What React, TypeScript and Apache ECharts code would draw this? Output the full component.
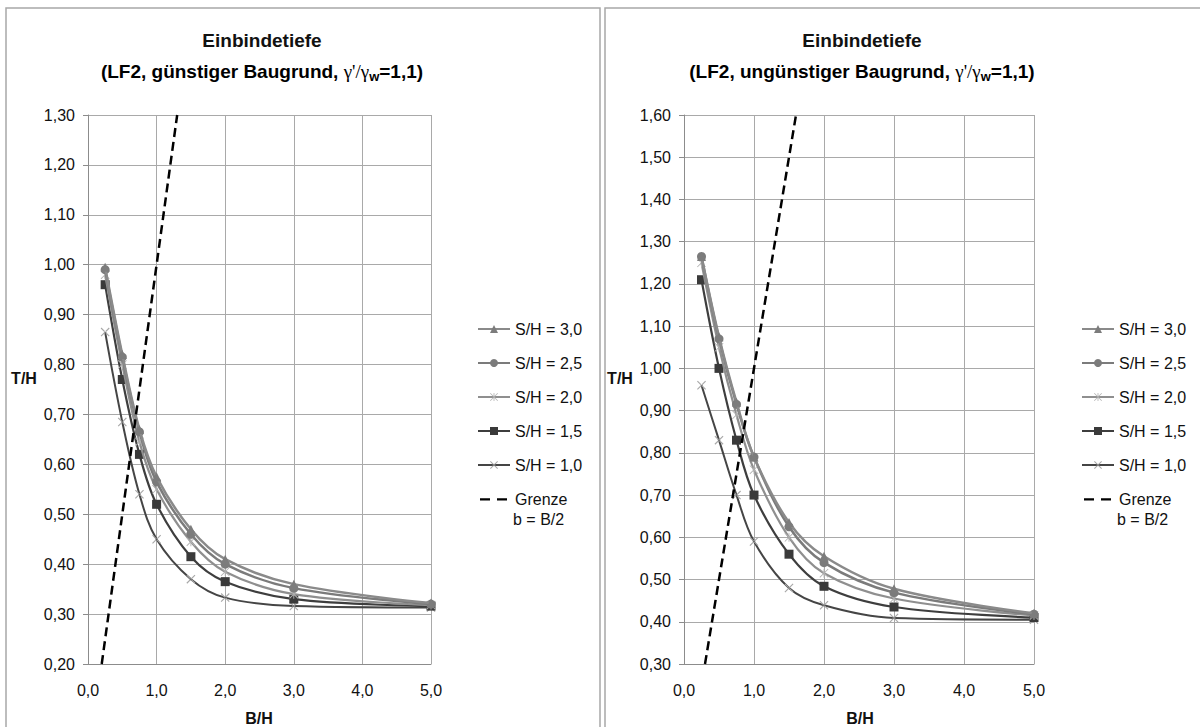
import React, { useEffect, useRef } from "react";
import * as echarts from "echarts";

// ---- data ----
const X_VALUES = [0.25, 0.5, 0.75, 1.0, 1.5, 2.0, 3.0, 5.0];
const SERIES_NAMES = ["S/H = 3,0", "S/H = 2,5", "S/H = 2,0", "S/H = 1,5", "S/H = 1,0"];
const GRENZE_NAME = "Grenze";

const LEFT_S30 = [0.995, 0.82, 0.67, 0.575, 0.47, 0.41, 0.36, 0.322];
const LEFT_S25 = [0.99, 0.815, 0.665, 0.565, 0.46, 0.4, 0.352, 0.32];
const LEFT_S20 = [0.98, 0.8, 0.645, 0.55, 0.445, 0.385, 0.34, 0.318];
const LEFT_S15 = [0.96, 0.77, 0.62, 0.52, 0.415, 0.365, 0.33, 0.316];
const LEFT_S10 = [0.865, 0.685, 0.54, 0.45, 0.37, 0.333, 0.316, 0.313];
const LEFT_GRENZE_X = [0.2, 1.3];
const LEFT_GRENZE_Y = [0.2, 1.3];

const RIGHT_S30 = [1.265, 1.075, 0.92, 0.79, 0.635, 0.555, 0.478, 0.42];
const RIGHT_S25 = [1.265, 1.07, 0.915, 0.79, 0.625, 0.54, 0.469, 0.418];
const RIGHT_S20 = [1.25, 1.05, 0.89, 0.76, 0.6, 0.515, 0.455, 0.415];
const RIGHT_S15 = [1.21, 1.0, 0.83, 0.7, 0.56, 0.484, 0.435, 0.41];
const RIGHT_S10 = [0.96, 0.83, 0.7, 0.59, 0.48, 0.439, 0.409, 0.405];
const RIGHT_GRENZE_X = [0.3, 1.6];
const RIGHT_GRENZE_Y = [0.3, 1.6];

const LEFT_TITLE_1 = "Einbindetiefe";
const LEFT_TITLE_2 = "(LF2, günstiger Baugrund, ";
const RIGHT_TITLE_2 = "(LF2, ungünstiger Baugrund, ";
const X_NAME = "B/H";
const Y_NAME = "T/H";
const GRENZE_LINE2 = "b = B/2";

const FONT = '"Liberation Sans", Arial, sans-serif';

const ASTERISK =
  "path://M4.5 0h1v10h-1z M0 0.7L0.7 0L10 9.3L9.3 10z M10 0.7L9.3 0L0 9.3L0.7 10z";
const CROSS = "path://M0 0.9L0.9 0L10 9.1L9.1 10z M10 0.9L9.1 0L0 9.1L0.9 10z";
const DASH_ICON =
  "path://M0 0h0.01v0.01h-0.01z M2 4.2h10v2.2h-10z M19 4.2h10v2.2h-10z M31.99 9.99h0.01v0.01h-0.01z";

const SERIES_STYLE = [
  { symbol: "triangle", size: 9, line: "#8a8a8a", marker: "#7c7c7c", width: 2.5 },
  { symbol: "circle", size: 9, line: "#7b7b7b", marker: "#7b7b7b", width: 2.5 },
  { symbol: ASTERISK, size: 9, line: "#8f8f8f", marker: "#b3b3b3", width: 2.2 },
  { symbol: "rect", size: 9, line: "#3e3e3e", marker: "#3a3a3a", width: 2.2 },
  { symbol: CROSS, size: 9, line: "#454545", marker: "#a8a8a8", width: 2 },
];

function pairs(xs: number[], ys: number[]) {
  return xs.map((x, i) => [x, ys[i]]);
}

function buildSeries(gridIndex: number, values: number[][], gx: number[], gy: number[]) {
  const list: any[] = values.map((vals, i) => {
    const st = SERIES_STYLE[i];
    return {
      type: "line",
      name: SERIES_NAMES[i],
      xAxisIndex: gridIndex,
      yAxisIndex: gridIndex,
      data: pairs(X_VALUES, vals),
      smooth: 0.35,
      symbol: st.symbol,
      symbolSize: st.size,
      showAllSymbol: true,
      lineStyle: { color: st.line, width: st.width },
      itemStyle: { color: st.marker },
      z: 3 + (4 - i),
    };
  });
  list.push({
    type: "line",
    name: GRENZE_NAME,
    xAxisIndex: gridIndex,
    yAxisIndex: gridIndex,
    data: pairs(gx, gy),
    symbol: "none",
    lineStyle: { color: "#000", width: 2.5, type: [9, 5] },
    itemStyle: { color: "#000" },
    z: 10,
  });
  return list;
}

function yAxis(gridIndex: number, min: number, max: number) {
  return {
    type: "value",
    gridIndex,
    min,
    max,
    interval: 0.1,
    axisLine: { show: true, lineStyle: { color: "#8c8c8c", width: 1 } },
    axisTick: { show: true, length: 5, lineStyle: { color: "#8c8c8c" } },
    splitLine: { show: true, lineStyle: { color: "#a9a9a9", width: 1 } },
    axisLabel: {
      margin: 13,
      fontSize: 16,
      fontFamily: FONT,
      color: "#111",
      formatter: (v: number) => v.toFixed(2).replace(".", ","),
    },
  };
}

function xAxis(gridIndex: number) {
  return {
    type: "value",
    gridIndex,
    min: 0,
    max: 5,
    interval: 1,
    axisLine: { show: true, onZero: false, lineStyle: { color: "#8c8c8c", width: 1 } },
    axisTick: { show: false },
    splitLine: { show: true, lineStyle: { color: "#a9a9a9", width: 1 } },
    axisLabel: {
      margin: 18,
      fontSize: 16,
      fontFamily: FONT,
      color: "#111",
      formatter: (v: number) => v.toFixed(1).replace(".", ","),
    },
  };
}

function titleRich() {
  return {
    b: { fontSize: 19, fontWeight: "bold", fontFamily: FONT, color: "#111", lineHeight: 24 },
    g: { fontSize: 19, fontFamily: '"Liberation Serif", serif', color: "#111", lineHeight: 24 },
    s: { fontSize: 13, fontWeight: "bold", fontFamily: FONT, color: "#111", lineHeight: 14, verticalAlign: "bottom" },
  };
}

function legend(left: number) {
  return {
    orient: "vertical",
    left,
    top: 316,
    itemWidth: 32,
    itemHeight: 10,
    itemGap: 18,
    selectedMode: false,
    data: [...SERIES_NAMES, { name: GRENZE_NAME, icon: DASH_ICON }],
    textStyle: { fontSize: 16, fontFamily: FONT, color: "#111", lineHeight: 16 },
  };
}

export default function App() {
  const ref = useRef<HTMLDivElement>(null);

  useEffect(() => {
    if (!ref.current) return;
    const chart = echarts.init(ref.current, undefined, { renderer: "svg" });
    const textStyleBase = { fontFamily: FONT, fontSize: 16, fontWeight: "bold", fill: "#111" };
    const titleStyle = { fontFamily: FONT, fontSize: 19, fontWeight: "bold", fill: "#111" };
    const option: any = {
      animation: false,
      backgroundColor: "#fff",
      grid: [
        { left: 88, top: 115, width: 343, height: 549 },
        { left: 684, top: 115, width: 350, height: 549 },
      ],
      xAxis: [xAxis(0), xAxis(1)],
      yAxis: [yAxis(0, 0.2, 1.3), yAxis(1, 0.3, 1.6)],
      legend: [legend(472), legend(1076)],
      series: [
        ...buildSeries(0, [LEFT_S30, LEFT_S25, LEFT_S20, LEFT_S15, LEFT_S10], LEFT_GRENZE_X, LEFT_GRENZE_Y),
        ...buildSeries(1, [RIGHT_S30, RIGHT_S25, RIGHT_S20, RIGHT_S15, RIGHT_S10], RIGHT_GRENZE_X, RIGHT_GRENZE_Y),
      ],
      graphic: [
        { type: "rect", shape: { x: 6, y: 8, width: 594, height: 730 }, style: { fill: "none", stroke: "#a8a8a8", lineWidth: 1.5 }, silent: true },
        { type: "rect", shape: { x: 605, y: 8, width: 600, height: 730 }, style: { fill: "none", stroke: "#a8a8a8", lineWidth: 1.5 }, silent: true },
        { type: "text", x: 262, y: 40, style: { ...titleStyle, text: LEFT_TITLE_1, align: "center", verticalAlign: "middle" } },
        {
          type: "text",
          x: 262,
          y: 71,
          style: {
            text: "{b|" + LEFT_TITLE_2 + "}{g|γ'/γ}{s|w}{b|=1,1)}",
            rich: titleRich(),
            align: "center",
            verticalAlign: "middle",
          },
        },
        { type: "text", x: 862, y: 40, style: { ...titleStyle, text: LEFT_TITLE_1, align: "center", verticalAlign: "middle" } },
        {
          type: "text",
          x: 862,
          y: 71,
          style: {
            text: "{b|" + RIGHT_TITLE_2 + "}{g|γ'/γ}{s|w}{b|=1,1)}",
            rich: titleRich(),
            align: "center",
            verticalAlign: "middle",
          },
        },
        { type: "text", x: 24, y: 378, style: { ...textStyleBase, text: Y_NAME, align: "center", verticalAlign: "middle" } },
        { type: "text", x: 620, y: 378, style: { ...textStyleBase, text: Y_NAME, align: "center", verticalAlign: "middle" } },
        { type: "text", x: 259, y: 718, style: { ...textStyleBase, text: X_NAME, align: "center", verticalAlign: "middle" } },
        { type: "text", x: 860, y: 718, style: { ...textStyleBase, text: X_NAME, align: "center", verticalAlign: "middle" } },
        { type: "text", x: 513, y: 519, style: { fontFamily: FONT, fontSize: 16, fill: "#111", text: GRENZE_LINE2, align: "left", verticalAlign: "middle" } },
        { type: "text", x: 1117, y: 519, style: { fontFamily: FONT, fontSize: 16, fill: "#111", text: GRENZE_LINE2, align: "left", verticalAlign: "middle" } },
      ],
    };
    chart.setOption(option);
    return () => chart.dispose();
  }, []);

  return (
    <div
      ref={ref}
      style={{ position: "fixed", left: 0, top: 0, width: 1200, height: 727, background: "#fff" }}
    />
  );
}
